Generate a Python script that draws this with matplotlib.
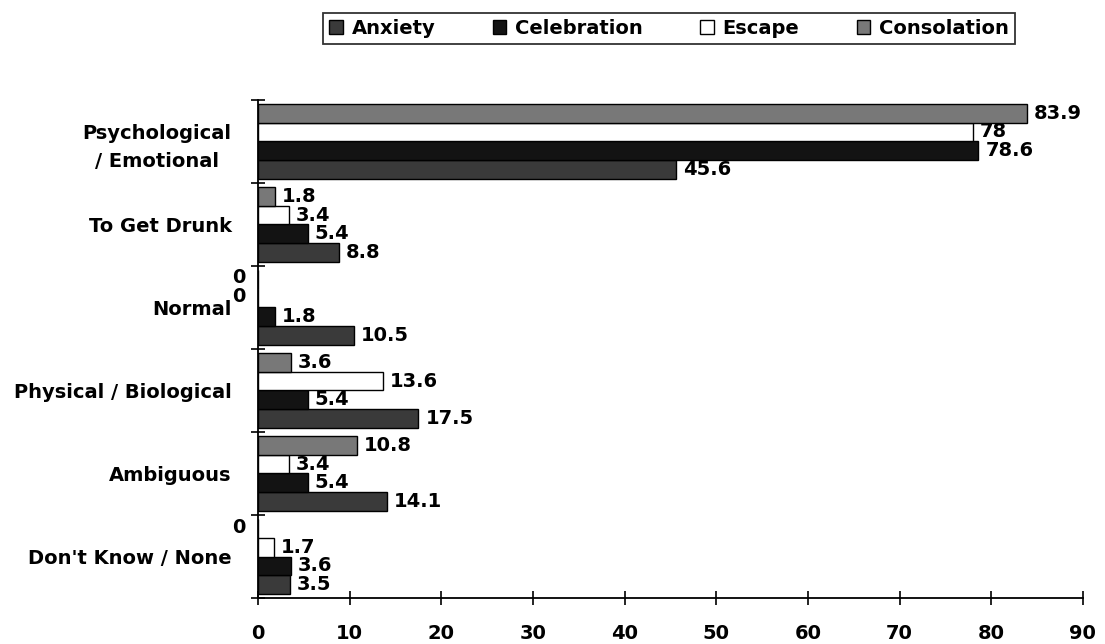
import matplotlib
matplotlib.use("Agg")
import matplotlib.pyplot as plt
import numpy as np

categories = ["Psychological\n/ Emotional", "To Get Drunk", "Normal",
              "Physical / Biological", "Ambiguous", "Don't Know / None"]
series_names = ["Anxiety", "Celebration", "Escape", "Consolation"]
anxiety = [45.6, 8.8, 10.5, 17.5, 14.1, 3.5]
celebration = [78.6, 5.4, 1.8, 5.4, 5.4, 3.6]
escape = [78, 3.4, 0, 13.6, 3.4, 1.7]
consolation = [83.9, 1.8, 0, 3.6, 10.8, 0]
xticks = [0, 10, 20, 30, 40, 50, 60, 70, 80, 90]

plt.rcParams['font.family'] = ['DejaVu Sans']
plt.rcParams['font.weight'] = 'bold'

fig = plt.figure(figsize=(11.05, 6.44), dpi=100)
ax = fig.add_axes([0.2335, 0.0714, 0.7465, 0.7736])

colors = ["#3a3a3a", "#131313", "#ffffff", "#787878"]
data = [anxiety, celebration, escape, consolation]
n = len(categories)
ypos = np.arange(n)[::-1]  # first category at top
h = 0.225
offsets = [-1.5 * h, -0.5 * h, 0.5 * h, 1.5 * h]
FS = 14

for vals, col, off, name in zip(data, colors, offsets, series_names):
    ax.barh(ypos + off, vals, height=h, color=col, edgecolor="black",
            linewidth=1.0, label=name)
    for yv, v in zip(ypos + off, vals):
        lab = f"{v:g}"
        if v == 0:
            ax.annotate(lab, xy=(0, yv), xytext=(-9, 1), textcoords="offset points",
                        ha="right", va="center", fontsize=FS, fontweight="bold")
        else:
            ax.annotate(lab, xy=(v, yv), xytext=(5, 0), textcoords="offset points",
                        ha="left", va="center", fontsize=FS, fontweight="bold")

ax.set_xlim(0, 90)
ax.set_ylim(-0.5, n - 0.5)
ax.set_xticks(xticks)
ax.set_xticklabels([str(t) for t in xticks], fontsize=FS, fontweight="bold")
ax.tick_params(axis="x", direction="inout", length=10, width=1.2, pad=14)

ax.set_yticks(ypos)
ax.set_yticklabels(categories, fontsize=FS, fontweight="bold", multialignment="center",
                   linespacing=1.55)
ax.tick_params(axis="y", which="major", length=0, pad=19)
ax.set_yticks(np.arange(n + 1) - 0.5, minor=True)
ax.tick_params(axis="y", which="minor", direction="inout", length=10, width=1.2)

for s in ["top", "right"]:
    ax.spines[s].set_visible(False)
for s in ["left", "bottom"]:
    ax.spines[s].set_linewidth(1.3)

handles, labels = ax.get_legend_handles_labels()
leg = fig.legend(handles, labels, loc="center", bbox_to_anchor=(0.6054, 0.9557), ncol=4,
                 frameon=True, fancybox=False, edgecolor="black",
                 handlelength=0.7, handleheight=0.7, handletextpad=0.45,
                 columnspacing=2.95, borderpad=0.3, prop={'weight': 'bold', 'size': FS})
leg.get_frame().set_linewidth(1.3)

fig.savefig("out.png", dpi=100)
